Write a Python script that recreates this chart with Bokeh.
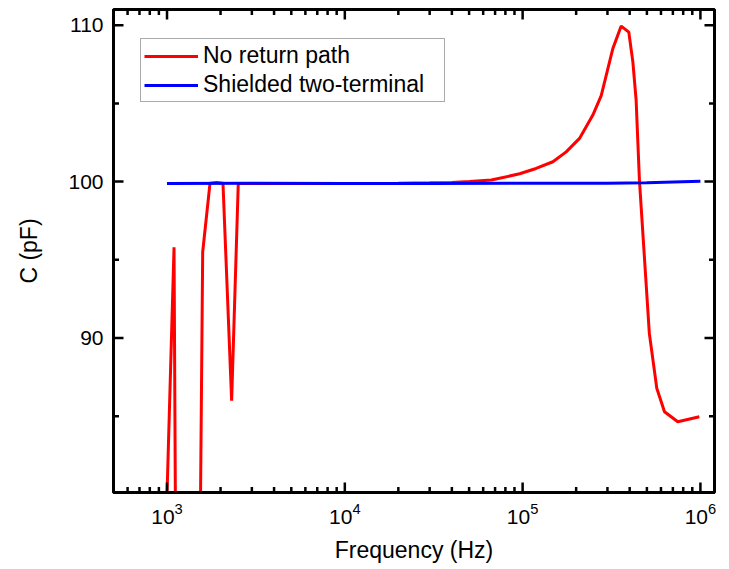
import numpy as np
from bokeh.plotting import figure
from bokeh.models import SingleIntervalTicker, LogTicker, Range1d
from bokeh.embed import file_html
from bokeh.resources import INLINE

# ---- data ----
freq_red = [1000, 1095, 1120, 1530, 1587, 1745, 1900, 2064, 2309, 2516, 3000, 5000,
            10000, 20000, 30000, 40000, 50300, 66700, 96200, 119000, 148000,
            175800, 208900, 248300, 276700, 321600, 358300, 395600, 416900,
            434900, 453800, 516000, 568300, 628000, 746000, 986000]
c_red = [80.0, 95.8, 75.0, 75.0, 95.5, 99.9, 99.95, 99.9, 86.0, 99.88, 99.88, 99.88,
         99.88, 99.89, 99.92, 99.95, 100.0, 100.1, 100.5, 100.84, 101.27,
         101.9, 102.76, 104.25, 105.5, 108.5, 109.94, 109.55, 107.65,
         105.2, 100.1, 90.3, 86.79, 85.29, 84.65, 84.97]

freq_blue = [1000, 3000, 10000, 30000, 100000, 300000, 500000, 1000000]
c_blue = [99.88, 99.89, 99.88, 99.88, 99.89, 99.9, 99.93, 100.03]

series_names = ["No return path", "Shielded two-terminal"]
series_colors = ["#ff0000", "#0000ff"]

x_limits = (500, 1.2e6)
y_limits = (80.13, 111.0)
x_decades = [2, 3, 4, 5, 6]
y_step = 10

FONT = "Liberation Sans"

p = figure(width=729, height=569, x_axis_type="log",
           x_range=Range1d(*x_limits), y_range=Range1d(*y_limits),
           output_backend="svg", toolbar_location=None,
           min_border_left=113, min_border_right=15, min_border_top=9,
           min_border_bottom=77)

p.xgrid.visible = False
p.ygrid.visible = False
p.outline_line_color = "black"
p.outline_line_width = 3
p.background_fill_color = "white"
p.border_fill_color = "white"

p.line(freq_red, c_red, line_color=series_colors[0], line_width=3,
       legend_label=series_names[0])
p.line(freq_blue, c_blue, line_color=series_colors[1], line_width=3,
       legend_label=series_names[1])

# ---- inward tick marks on all four sides (screen-length rays) ----
xmaj = [10.0 ** d for d in x_decades]
xmin_ = [m * 10.0 ** d for d in x_decades for m in range(2, 10)]
xmaj = [v for v in xmaj if x_limits[0] <= v <= x_limits[1]]
xmin_ = [v for v in xmin_ if x_limits[0] <= v <= x_limits[1]]
ymaj = [v for v in np.arange(0, 200, y_step) if y_limits[0] <= v <= y_limits[1]]
ymin_ = [v + y_step / 2 for v in np.arange(0, 200, y_step)
         if y_limits[0] <= v + y_step / 2 <= y_limits[1]]

tick_kw = dict(length_units="screen", line_color="black", line_width=2.5)
for vals, L in ((xmaj, 10), (xmin_, 5.5)):
    p.ray(x=vals, y=[y_limits[0]] * len(vals), length=L, angle=np.pi / 2, **tick_kw)
    p.ray(x=vals, y=[y_limits[1]] * len(vals), length=L, angle=-np.pi / 2, **tick_kw)
for vals, L in ((ymaj, 10), (ymin_, 5.5)):
    p.ray(x=[x_limits[0]] * len(vals), y=vals, length=L, angle=0, **tick_kw)
    p.ray(x=[x_limits[1]] * len(vals), y=vals, length=L, angle=np.pi, **tick_kw)

def style_axis(ax):
    ax.axis_line_width = 3
    ax.axis_line_color = "black"
    ax.major_tick_line_color = None
    ax.minor_tick_line_color = None
    ax.major_tick_in = 0
    ax.major_tick_out = 0
    ax.minor_tick_in = 0
    ax.minor_tick_out = 0
    ax.major_label_text_font = FONT
    ax.major_label_text_color = "black"
    ax.axis_label_text_font = FONT
    ax.axis_label_text_font_style = "normal"
    ax.axis_label_text_color = "black"

xa = p.xaxis[0]
xa.ticker = LogTicker(num_minor_ticks=10)
style_axis(xa)
xa.major_label_text_font_size = "21px"
xa.major_label_standoff = 10
xa.axis_label = "Frequency (Hz)"
xa.axis_label_text_font_size = "23px"
xa.axis_label_standoff = 10

ya = p.yaxis[0]
ya.ticker = SingleIntervalTicker(interval=y_step, num_minor_ticks=2)
style_axis(ya)
ya.major_label_text_font_size = "21px"
ya.major_label_standoff = 10
ya.axis_label = "C (pF)"
ya.axis_label_text_font_size = "23px"
ya.axis_label_standoff = 23

lg = p.legend[0]
lg.location = (27, 390)
lg.label_text_font = FONT
lg.label_text_font_size = "23px"
lg.label_text_color = "black"
lg.glyph_width = 54
lg.glyph_height = 20
lg.label_height = 20
lg.label_width = 238
lg.label_standoff = 5
lg.padding = 3
lg.spacing = 2
lg.margin = 0
lg.border_line_color = "#555555"
lg.border_line_width = 1
lg.background_fill_color = "white"
lg.background_fill_alpha = 1.0

open("out.html", "w").write(file_html(p, INLINE))
